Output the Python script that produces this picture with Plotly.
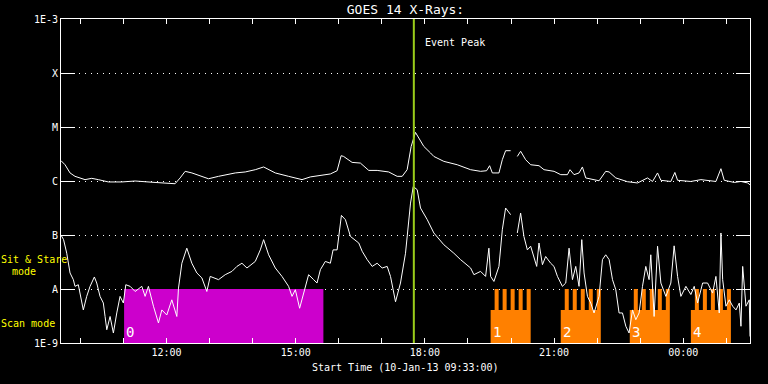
import plotly.graph_objects as go
import pandas as pd

START = pd.Timestamp("2013-01-10 09:33:00")
SPAN_MIN = 960

# GOES long channel (1-8 A), minutes after start / flux W m^-2
long_min = [0, 5.6, 12.6, 19.5, 33.5, 42.8, 52, 66, 84.7, 103.3, 131, 149.7, 159, 166, 173, 182.4,
            196.3, 205.5, 219.5, 242.8, 256.7, 270.7, 282.3, 289.3, 298.6, 317.1, 326.5, 335.8,
            347.4, 361.4, 375.3, 384.7, 390.3, 393.8, 405.6, 417.1, 428.8, 440.5, 456.6, 468.4,
            475.4, 482.3, 487.9, 493.9, 500.9, 505.5, 514.9, 519.5, 533.4, 552.1, 570.7, 584.6,
            593, 597.2, 601, 610.2, 614.9, 619.5, 626.5, 630, 635.8, 640.4, 647.4, 654.4, 666,
            673, 687, 696.3, 705.6, 709.2, 714.8, 721.8, 726.5, 731.1, 749.7, 759, 763.7, 773,
            789.3, 803.3, 817.2, 824.2, 831.2, 835.8, 849.7, 855.3, 859.1, 877.6, 891.6, 912.5,
            919.5, 924.1, 938.1, 947.4, 956.8, 960]
long_flux = [2.38e-6, 2.0e-6, 1.41e-6, 1.22e-6, 1.06e-6, 1.12e-6, 1.06e-6, 0.96e-6, 0.96e-6, 1.0e-6,
             0.94e-6, 0.89e-6, 0.89e-6, 1.14e-6, 1.51e-6, 1.41e-6, 1.22e-6, 1.10e-6, 1.22e-6,
             1.41e-6, 1.47e-6, 1.62e-6, 1.82e-6, 1.62e-6, 1.41e-6, 1.22e-6, 1.14e-6, 1.06e-6,
             1.19e-6, 1.25e-6, 1.35e-6, 1.55e-6, 2.94e-6, 2.85e-6, 2.21e-6, 2.15e-6, 1.57e-6,
             1.57e-6, 1.47e-6, 1.22e-6, 1.22e-6, 1.62e-6, 4.37e-6, 7.94e-6, 5.4e-6, 4.37e-6,
             3.3e-6, 2.85e-6, 2.31e-6, 2.0e-6, 1.62e-6, 1.51e-6, 1.55e-6, 1.92e-6, 1.41e-6,
             1.41e-6, 2.48e-6, 3.64e-6, 3.64e-6, None, 2.85e-6, 3.56e-6, 2.48e-6, 2.0e-6,
             1.92e-6, 1.62e-6, 1.51e-6, 1.31e-6, 1.31e-6, 1.62e-6, 1.31e-6, 1.41e-6, 1.82e-6,
             1.14e-6, 1.01e-6, 1.51e-6, 1.47e-6, 1.14e-6, 0.97e-6, 0.92e-6, 1.14e-6, 0.98e-6,
             1.41e-6, 1.03e-6, 0.98e-6, 1.44e-6, 1.03e-6, 0.98e-6, 1.06e-6, 0.98e-6, 1.69e-6,
             1.03e-6, 0.94e-6, 0.98e-6, 0.92e-6, 0.85e-6]

# GOES short channel (0.5-4 A)
short_min = [0, 3.6, 8.0, 12.6, 17.2, 19.5, 24.1, 28.9, 31.1, 35.8,
             40.5, 46.5, 49.8, 54.4, 59, 61.4, 63.8, 68.4, 73, 77.7,
             82.3, 86.9, 90.3, 96.3, 103.3, 112.6, 117.2, 121.8, 128.8, 135.8,
             140.5, 147.4, 154.4, 161.4, 163.7, 168.4, 175.3, 182.3, 189.3, 196.3,
             203.2, 207.9, 219.5, 228.8, 238.2, 245.1, 252.1, 259.1, 270.7, 277.7,
             282.3, 289.3, 298.6, 307.9, 317.1, 321.9, 326.5, 332.5, 340.4, 345,
             352, 356.7, 361.4, 368.3, 375.3, 379.1, 384.7, 390.7, 396.3, 403.3,
             414.9, 419.6, 426.6, 433.6, 440.5, 447.5, 454.5, 459.1, 466.1, 473,
             480, 487, 490.8, 496.3, 500.9, 510.3, 519.5, 533.4, 547.4, 556.7,
             570.7, 575.3, 584.6, 591.6, 596.2, 598.6, 603.2, 610.2, 614.9, 619.5,
             626.5, 630, 635.8, 640.4, 645, 649.8, 654.4, 659, 662.8, 666,
             670.8, 675.3, 682.3, 686.9, 691.7, 698.6, 703.3, 707.9, 712.6, 717.2,
             721.8, 725.6, 728.8, 733.5, 738.1, 742.7, 749.7, 754.4, 759, 763.7,
             768.4, 773, 777.6, 782.3, 787, 791.5, 796.3, 800.9, 805.5, 810.2,
             814.8, 819.4, 821.8, 826.4, 831.2, 835.8, 842.8, 849.7, 854.3, 859.1,
             863.7, 870.7, 877.6, 882.3, 887, 894, 900.9, 907.9, 912.5, 917.2,
             919.5, 921.9, 926.5, 931.1, 935.9, 940.5, 945.1, 947.4, 949.8, 954.4,
             959, 960]
short_flux = [1.0e-7, 8.2e-8, 4.6e-8, 1.98e-8, 1.49e-8, 1.12e-8, 1.2e-8, 5.5e-9, 4.1e-9, 7.3e-9,
              1.12e-8, 1.67e-8, 1.29e-8, 7.3e-9, 5.5e-9, 3.1e-9, 1.76e-9, 3.1e-9, 1.53e-9, 3.6e-9,
              7.3e-9, 5.5e-9, 1.2e-8, 1.12e-8, 9.0e-9, 1.12e-8, 7.3e-9, 1.12e-8, 4.8e-9, 2.35e-9,
              4.1e-9, 3.3e-9, 6.3e-9, 3.1e-9, 1.04e-8, 3.0e-8, 5.7e-8, 3.0e-8, 1.98e-8, 1.6e-8,
              9.0e-9, 1.71e-8, 1.49e-8, 1.84e-8, 2.12e-8, 2.62e-8, 3.0e-8, 2.45e-8, 3.24e-8, 5.3e-8,
              8.2e-8, 4.3e-8, 2.45e-8, 1.71e-8, 1.12e-8, 7.3e-9, 9.7e-9, 4.4e-9, 1.12e-8, 1.84e-8,
              1.49e-8, 1.29e-8, 2.28e-8, 3.24e-8, 3.0e-8, 5.3e-8, 5.3e-8, 2.31e-7, 1.92e-7, 9.4e-8,
              7.1e-8, 5.0e-8, 3.5e-8, 2.62e-8, 3.0e-8, 2.45e-8, 2.62e-8, 1.71e-8, 5.8e-9, 1.29e-8,
              4.6e-8, 3.9e-7, 7.9e-7, 6.9e-7, 3.16e-7, 1.92e-7, 1.09e-7, 6.6e-8, 4.6e-8, 3.5e-8,
              2.45e-8, 1.84e-8, 2.12e-8, 1.71e-8, 5.7e-8, 1.71e-8, 1.38e-8, 2.62e-8, 1.25e-7, 3.16e-7,
              2.38e-7, None, 1.09e-7, 2.55e-7, 9.4e-8, 5.3e-8, 6.2e-8, 4.0e-8, 2.62e-8, 7.1e-8,
              2.82e-8, 4.0e-8, 3.0e-8, 2.62e-8, 1.71e-8, 1.12e-8, 1.29e-8, 5.7e-8, 1.49e-8, 2.62e-8,
              1.12e-8, 8.2e-8, 1.98e-8, 7.3e-9, 5.5e-9, 3.6e-9, 7.3e-9, 3.5e-8, 4.3e-8, 3.5e-8,
              1.49e-8, 9.7e-9, 3.6e-9, 3.6e-9, 2.04e-9, 1.53e-9, 4.1e-9, 2.7e-9, 3.6e-9, 1.12e-8,
              2.62e-8, 1.49e-8, 4.3e-8, 3.1e-9, 6.2e-8, 1.29e-8, 7.3e-9, 1.29e-8, 6.3e-8, 1.71e-8,
              7.3e-9, 1.12e-8, 7.9e-9, 1.12e-8, 5.5e-9, 1.29e-8, 1.29e-8, 8.4e-9, 1.71e-8, 3.6e-9,
              1.09e-7, 1.49e-8, 4.8e-9, 6.3e-9, 4.8e-9, 4.1e-9, 5.5e-9, 2.04e-9, 2.62e-8, 4.8e-9,
              6.3e-9, 1.32e-9]

event_peak_min = 491.6
stare_start_min = 87.9
stare_end_min = 365.6
scan_starts_min = [598.6, 696.3, 792.5, 877.6]
scan_duration_min = 55.8
scan_teeth = 5
mode_floor = 1e-9
mode_top = 1e-8
scan_base = 4.1e-9
block_labels = ["0", "1", "2", "3", "4"]

y_tickvals = [1e-9, 1e-8, 1e-7, 1e-6, 1e-5, 1e-4, 1e-3]
y_ticktext = ["1E-9", "A", "B", "C", "M", "X", "1E-3"]

FONT = "DejaVu Sans Mono"
MAGENTA = "#cc00cc"
ORANGE = "#ff8000"
GREEN = "#9acd1a"
YELLOW = "#ffff00"


def t(m):
    return START + pd.Timedelta(minutes=m)


fig = go.Figure()

# Sit & stare block
sx = [stare_start_min, stare_start_min, stare_end_min, stare_end_min, stare_start_min]
sy = [mode_floor, mode_top, mode_top, mode_floor, mode_floor]
fig.add_trace(go.Scatter(x=[t(m) for m in sx], y=sy, mode="lines", fill="toself",
                         fillcolor=MAGENTA, line=dict(width=0), hoverinfo="skip"))

# Scan blocks
for s in scan_starts_min:
    d = scan_duration_min / (2 * scan_teeth)
    xs = [s, s]
    ys = [mode_floor, scan_base]
    for k in range(scan_teeth):
        a = s + (2 * k + 1) * d
        b = s + (2 * k + 2) * d
        xs += [a, a, b, b]
        ys += [scan_base, mode_top, mode_top, scan_base]
    xs += [s + scan_duration_min, s]
    ys += [mode_floor, mode_floor]
    fig.add_trace(go.Scatter(x=[t(m) for m in xs], y=ys, mode="lines", fill="toself",
                             fillcolor=ORANGE, line=dict(width=0), hoverinfo="skip"))

fig.add_trace(go.Scatter(x=[t(m) for m in long_min], y=long_flux, mode="lines",
                         line=dict(color="white", width=1), connectgaps=False))
fig.add_trace(go.Scatter(x=[t(m) for m in short_min], y=short_flux, mode="lines",
                         line=dict(color="white", width=1), connectgaps=False))

fig.add_shape(type="line", x0=t(event_peak_min), x1=t(event_peak_min), y0=0, y1=1,
              yref="paper", line=dict(color=GREEN, width=2), layer="above")

annotations = [
    dict(x=t(event_peak_min), y=0.927, xref="x", yref="paper", text="Event Peak",
         showarrow=False, xanchor="left", yanchor="middle", xshift=9,
         font=dict(family=FONT, size=10, color="white")),
    dict(x=0.5, y=-0.077, xref="paper", yref="paper", text="Start Time (10-Jan-13 09:33:00)",
         showarrow=False, xanchor="center", yanchor="middle",
         font=dict(family=FONT, size=10, color="white")),
    dict(x=-0.0392, y=0.259, xref="paper", yref="paper", text="Sit & Stare",
         showarrow=False, xanchor="center", yanchor="middle",
         font=dict(family=FONT, size=10, color=YELLOW)),
    dict(x=-0.0537, y=0.222, xref="paper", yref="paper", text="mode",
         showarrow=False, xanchor="center", yanchor="middle",
         font=dict(family=FONT, size=10, color=YELLOW)),
    dict(x=-0.0479, y=0.0596, xref="paper", yref="paper", text="Scan mode",
         showarrow=False, xanchor="center", yanchor="middle",
         font=dict(family=FONT, size=10, color=YELLOW)),
]
for lbl, s in zip(block_labels, [stare_start_min] + scan_starts_min):
    annotations.append(dict(x=t(s), y=0.0, xref="x", yref="paper", text=lbl, showarrow=False,
                            xanchor="left", yanchor="bottom", xshift=0, yshift=1,
                            font=dict(family=FONT, size=14, color="white")))

fig.update_layout(
    width=768, height=384,
    paper_bgcolor="black", plot_bgcolor="black",
    margin=dict(l=61, r=18, t=19, b=41),
    showlegend=False,
    font=dict(family=FONT, size=10, color="white"),
    title=dict(text="GOES 14 X-Rays:", x=0.5, xref="paper", y=1 - 9.5 / 384, yref="container",
               xanchor="center", yanchor="middle",
               font=dict(family=FONT, size=13, color="white")),
    annotations=annotations,
    xaxis=dict(type="date", range=[t(0), t(SPAN_MIN)], showgrid=False, zeroline=False,
               showline=True, linecolor="white", linewidth=1, mirror="ticks",
               ticks="inside", ticklen=5, tickcolor="white", tickwidth=1,
               tickformat="%H:%M", dtick=3 * 3600 * 1000, tick0="2013-01-10 00:00",
               tickfont=dict(family=FONT, size=10, color="white"),
               minor=dict(dtick=3600 * 1000, ticks="inside", ticklen=5, tickcolor="white",
                          showgrid=False)),
    yaxis=dict(type="log", range=[-9, -3], tickvals=y_tickvals, ticktext=y_ticktext,
               showgrid=True, gridcolor="white", griddash="1px,5px", gridwidth=1, zeroline=False,
               showline=True, linecolor="white", linewidth=1, mirror="ticks",
               ticks="inside", ticklen=14, tickcolor="white", tickwidth=1,
               tickfont=dict(family=FONT, size=10, color="white")),
)

fig.write_html("out.html", config={"displayModeBar": False},
               post_script="document.body.style.margin='0';document.body.style.background='black';")
